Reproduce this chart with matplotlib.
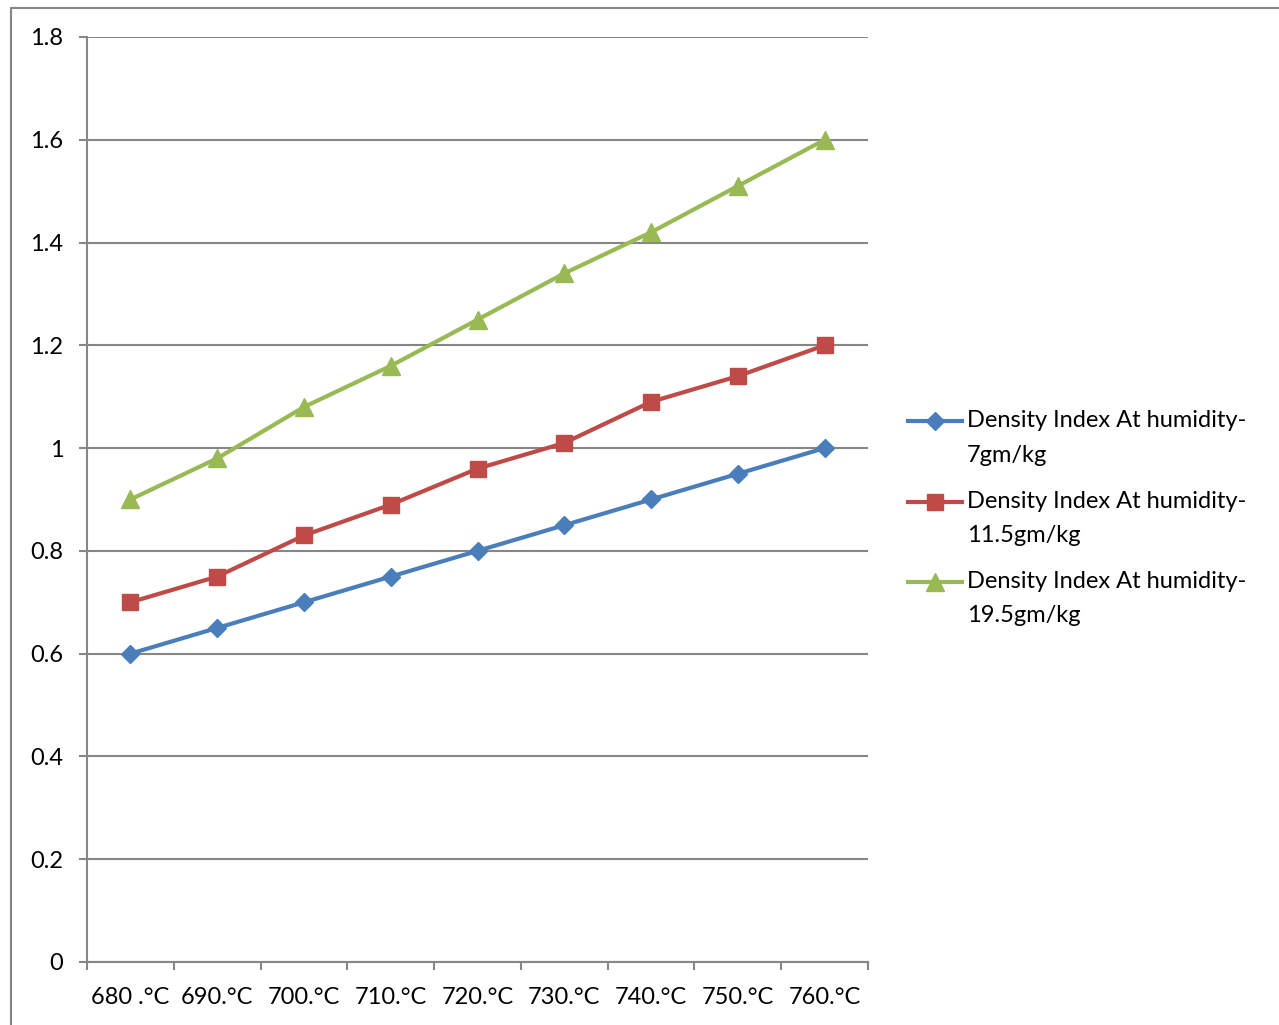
import matplotlib
matplotlib.use("Agg")
import matplotlib.pyplot as plt
from matplotlib.lines import Line2D
from matplotlib.patches import Rectangle
import numpy as np

categories = ["680 .°C", "690.°C", "700.°C", "710.°C", "720.°C",
              "730.°C", "740.°C", "750.°C", "760.°C"]
humidity_7 = [0.6, 0.65, 0.7, 0.75, 0.8, 0.85, 0.9, 0.95, 1.0]
humidity_11_5 = [0.7, 0.75, 0.83, 0.89, 0.96, 1.01, 1.09, 1.14, 1.2]
humidity_19_5 = [0.9, 0.98, 1.08, 1.16, 1.25, 1.34, 1.42, 1.51, 1.6]
y_ticks = [0, 0.2, 0.4, 0.6, 0.8, 1.0, 1.2, 1.4, 1.6, 1.8]
y_tick_labels = ["0", "0.2", "0.4", "0.6", "0.8", "1", "1.2", "1.4", "1.6", "1.8"]
series_labels = ["Density Index At humidity-\n7gm/kg",
                 "Density Index At humidity-\n11.5gm/kg",
                 "Density Index At humidity-\n19.5gm/kg"]

plt.rcParams["font.family"] = ["Lato", "DejaVu Sans"]
W, H = 1279, 1025
fig = plt.figure(figsize=(W / 100, H / 100), dpi=100)
fig.patch.set_facecolor("white")

# outer chart frame (Excel style)
fig.patches.append(Rectangle((11 / W, -0.1), 1.2, (H - 8) / H + 0.1,
                             transform=fig.transFigure, fill=False,
                             edgecolor="#868686", lw=1.5))

ax = fig.add_axes([87 / W, (H - 962) / H, (868 - 87) / W, (962 - 37) / H])
grid_c = "#868686"
x = np.arange(len(categories))

styles = [("#4A7EBB", "D", 9), ("#BE4B48", "s", 12), ("#98B954", "^", 13)]
for vals, (c, m, ms), lab in zip([humidity_7, humidity_11_5, humidity_19_5],
                                 styles, series_labels):
    ax.plot(x, vals, color=c, lw=3, marker=m, ms=ms, label=lab, zorder=3)

ax.set_xlim(-0.5, len(categories) - 0.5)
ax.set_ylim(0, 1.8)
ax.set_yticks(y_ticks)
ax.set_yticklabels(y_tick_labels)
ax.yaxis.grid(True, color=grid_c, lw=1.5)
ax.set_axisbelow(True)

ax.set_xticks(x)
ax.set_xticklabels(categories)
ax.set_xticks(np.arange(len(categories) + 1) - 0.5, minor=True)
ax.tick_params(axis="x", which="major", length=0, pad=18, labelsize=17)
ax.tick_params(axis="x", which="minor", length=6, width=1.5, color=grid_c)
ax.tick_params(axis="y", length=6, width=1.5, color=grid_c, pad=11, labelsize=17)

for s in ["top", "right"]:
    ax.spines[s].set_visible(False)
for s in ["left", "bottom"]:
    ax.spines[s].set_color(grid_c)
    ax.spines[s].set_linewidth(1.5)

# legend drawn by hand so the two-line labels get Excel-like line spacing
row_y = [421, 502, 582]
for (c, m, ms), lab, ry in zip(styles, series_labels, row_y):
    yf = 1 - ry / H
    fig.add_artist(Line2D([908 / W, 935 / W, 962 / W], [yf, yf, yf],
                          transform=fig.transFigure, color=c, lw=3,
                          marker=m, ms=ms, markevery=[1]))
    for k, line in enumerate(lab.split("\n")):
        fig.text(967 / W, 1 - (ry + 34 * k) / H, line, fontsize=17,
                 ha="left", va="center")

fig.savefig("out.png", dpi=100)
